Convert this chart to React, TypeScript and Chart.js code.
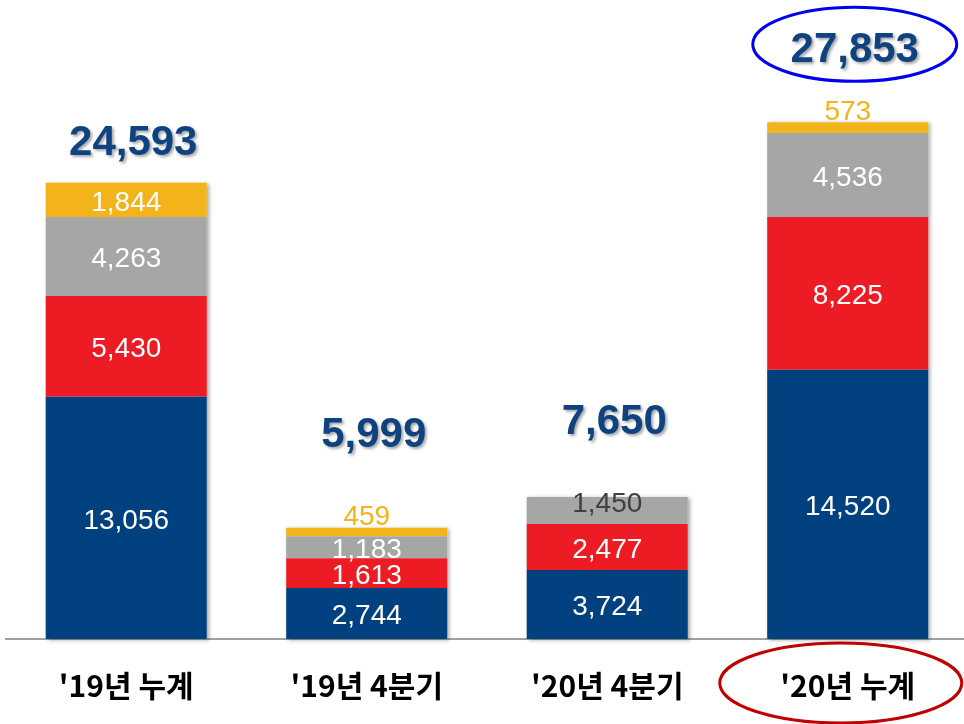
import { useEffect, useRef } from "react";
import { Chart, registerables } from "chart.js";

Chart.register(...registerables);

// ---- data ----
const categories = ["'19년 누계", "'19년 4분기", "'20년 4분기", "'20년 누계"];
const seriesBlue = [13056, 2744, 3724, 14520];
const seriesRed = [5430, 1613, 2477, 8225];
const seriesGray = [4263, 1183, 1450, 4536];
const seriesYellow = [1844, 459, 0, 573];
const totals = [24593, 5999, 7650, 27853];
const highlightIndex = 3;

// ---- style ----
const BLUE = "#02417F";
const RED = "#ED1C24";
const GRAY = "#A6A6A6";
const YELLOW = "#F2B41A";
const TOTAL_COLOR = "#0E437F";
const totalLift = [42, 95, 78, 75];
const TOTAL_DX = 7;
const TEXT_DY = 3;

const fmt = (v: number) => v.toLocaleString("en-US");

const overlayPlugin = {
  id: "overlay",
  beforeDatasetsDraw(chart: any) {
    const ctx = chart.ctx;
    const n = chart.data.labels.length;
    ctx.save();
    for (let i = 0; i < n; i++) {
      let top = Infinity;
      let base = 0;
      let x = 0;
      let width = 0;
      chart.data.datasets.forEach((ds: any, d: number) => {
        const el = chart.getDatasetMeta(d).data[i];
        if (d === 0) {
          base = el.base;
          x = el.x;
          width = el.width;
        }
        if (ds.data[i] > 0) top = Math.min(top, el.y);
      });
      ctx.shadowColor = "rgba(0,0,0,0.35)";
      ctx.shadowBlur = 4;
      ctx.shadowOffsetX = 2;
      ctx.shadowOffsetY = 1;
      ctx.fillStyle = "#ffffff";
      ctx.fillRect(x - width / 2, top, width, base - top);
    }
    ctx.restore();
  },
  afterDatasetsDraw(chart: any) {
    const ctx = chart.ctx;
    const n = chart.data.labels.length;
    ctx.save();
    ctx.textAlign = "center";
    ctx.textBaseline = "middle";
    ctx.font = '28px "Liberation Sans", Arial, sans-serif';
    chart.data.datasets.forEach((ds: any, d: number) => {
      const meta = chart.getDatasetMeta(d);
      ds.data.forEach((v: number, i: number) => {
        if (!v) return;
        const el = meta.data[i];
        const h = el.base - el.y;
        let y = (el.y + el.base) / 2;
        let color = "#ffffff";
        if (d === 3 && h < 28) {
          y = el.y - 13;
          color = YELLOW;
        } else if (d === 2 && !chart.data.datasets[3].data[i]) {
          y = el.y + 4;
          color = "#404040";
        }
        ctx.fillStyle = color;
        ctx.fillText(fmt(v), el.x, y + TEXT_DY);
      });
    });

    // totals
    for (let i = 0; i < n; i++) {
      let top = Infinity;
      let x = 0;
      chart.data.datasets.forEach((ds: any, d: number) => {
        const el = chart.getDatasetMeta(d).data[i];
        x = el.x;
        if (ds.data[i] > 0) top = Math.min(top, el.y);
      });
      const tx = x + TOTAL_DX;
      const ty = top - totalLift[i];
      ctx.save();
      ctx.font = 'bold 42px "Liberation Sans", Arial, sans-serif';
      ctx.shadowColor = "rgba(0,0,0,0.35)";
      ctx.shadowBlur = 3;
      ctx.shadowOffsetX = 2;
      ctx.shadowOffsetY = 2;
      ctx.fillStyle = TOTAL_COLOR;
      ctx.fillText(fmt(totals[i]), tx, ty + TEXT_DY);
      ctx.restore();
      if (i === highlightIndex) {
        ctx.beginPath();
        ctx.ellipse(tx, ty - 3, 102, 37, 0, 0, Math.PI * 2);
        ctx.strokeStyle = "#0000F0";
        ctx.lineWidth = 3;
        ctx.stroke();
        const xs = chart.scales.x;
        ctx.beginPath();
        ctx.ellipse(x - 7, xs.top + 44, 121, 40, 0, 0, Math.PI * 2);
        ctx.strokeStyle = "#C00000";
        ctx.lineWidth = 3;
        ctx.stroke();
      }
    }
    ctx.restore();
  },
};

export default function App() {
  const ref = useRef<HTMLCanvasElement>(null);
  useEffect(() => {
    if (!ref.current) return;
    const mk = (label: string, data: number[], color: string) => ({
      label,
      data,
      backgroundColor: color,
      borderWidth: 0,
      barPercentage: 0.67,
      categoryPercentage: 1,
    });
    const chart = new Chart(ref.current, {
      type: "bar",
      data: {
        labels: categories,
        datasets: [
          mk("blue", seriesBlue, BLUE),
          mk("red", seriesRed, RED),
          mk("gray", seriesGray, GRAY),
          mk("yellow", seriesYellow, YELLOW),
        ],
      },
      options: {
        responsive: false,
        animation: false,
        devicePixelRatio: 1,
        layout: { padding: { left: 6, right: 4, top: 0, bottom: 0 } },
        plugins: { legend: { display: false }, tooltip: { enabled: false } },
        scales: {
          x: {
            stacked: true,
            grid: { display: false, drawTicks: false },
            border: { display: true, color: "#A0A0A0", width: 2 },
            ticks: {
              color: "#000000",
              padding: 29,
              font: { family: '"Noto Sans CJK KR", sans-serif', size: 30, weight: "bold" },
            },
            afterFit: (s: any) => {
              s.height = 85;
            },
          },
          y: {
            stacked: true,
            display: false,
            min: 0,
            max: 34450,
          },
        },
      },
      plugins: [overlayPlugin],
    });
    return () => chart.destroy();
  }, []);
  return (
    <div
      style={{
        position: "fixed",
        left: 0,
        top: 0,
        width: 964,
        height: 724,
        overflow: "hidden",
        background: "#ffffff",
      }}
    >
      <canvas ref={ref} width={972} height={724} style={{ display: "block" }} />
    </div>
  );
}
